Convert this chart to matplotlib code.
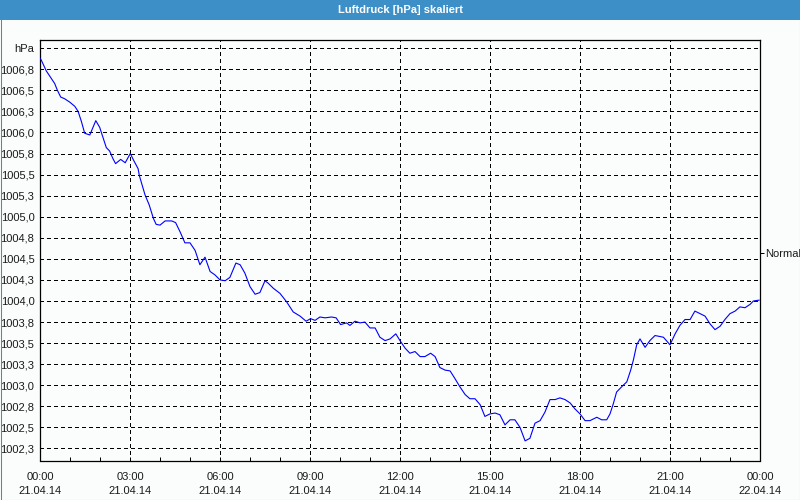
import matplotlib
matplotlib.use('Agg')
import matplotlib.pyplot as plt
import matplotlib.dates as mdates
import pandas as pd

# hours since 21.04.14 00:00
hours = [0.00, 0.04, 0.21, 0.38, 0.49, 0.58, 0.69, 0.82, 0.99, 1.16, 1.27, 1.38, 1.49,
         1.66, 1.73, 1.86, 1.99, 2.10, 2.21, 2.32, 2.43, 2.52, 2.69, 2.84, 3.01, 3.12,
         3.27, 3.31, 3.50, 3.64, 3.78, 3.87, 4.00, 4.17, 4.39, 4.52, 4.67, 4.83, 5.00,
         5.17, 5.33, 5.50, 5.67, 5.83, 6.00, 6.17, 6.33, 6.53, 6.67, 6.83, 7.00, 7.17,
         7.33, 7.50, 7.61, 7.78, 8.00, 8.22, 8.44, 8.67, 8.87, 9.02, 9.17, 9.33, 9.50,
         9.72, 9.87, 10.02, 10.22, 10.33, 10.50, 10.67, 10.83, 11.00, 11.17, 11.33,
         11.50, 11.67, 11.86, 12.00, 12.17, 12.33, 12.50, 12.67, 12.83, 13.02, 13.17,
         13.33, 13.50, 13.67, 13.83, 14.00, 14.17, 14.33, 14.50, 14.67, 14.83, 15.00,
         15.17, 15.33, 15.50, 15.67, 15.83, 16.00, 16.17, 16.33, 16.50, 16.67, 16.83,
         17.00, 17.17, 17.33, 17.50, 17.67, 17.83, 18.00, 18.17, 18.33, 18.56, 18.72,
         18.89, 19.00, 19.11, 19.22, 19.44, 19.56, 19.69, 19.78, 19.89, 20.00, 20.17,
         20.33, 20.50, 20.78, 21.00, 21.17, 21.33, 21.50, 21.67, 21.83, 22.00, 22.17,
         22.33, 22.50, 22.67, 22.83, 23.00, 23.17, 23.33, 23.50, 23.67, 23.78, 23.97]

pressure = [1006.88, 1006.86, 1006.73, 1006.64, 1006.58, 1006.50, 1006.42, 1006.40,
            1006.36, 1006.31, 1006.25, 1006.13, 1005.99, 1005.97, 1006.03, 1006.14,
            1006.06, 1005.94, 1005.82, 1005.78, 1005.69, 1005.63, 1005.68, 1005.64,
            1005.75, 1005.67, 1005.57, 1005.49, 1005.26, 1005.14, 1004.98, 1004.91,
            1004.90, 1004.95, 1004.95, 1004.93, 1004.82, 1004.69, 1004.69, 1004.60,
            1004.43, 1004.52, 1004.35, 1004.31, 1004.25, 1004.24, 1004.28, 1004.45,
            1004.43, 1004.33, 1004.17, 1004.08, 1004.10, 1004.24, 1004.21, 1004.15,
            1004.09, 1003.99, 1003.87, 1003.82, 1003.76, 1003.79, 1003.77, 1003.81,
            1003.80, 1003.81, 1003.80, 1003.72, 1003.74, 1003.71, 1003.76, 1003.74,
            1003.75, 1003.68, 1003.68, 1003.57, 1003.53, 1003.55, 1003.61, 1003.53,
            1003.44, 1003.38, 1003.40, 1003.34, 1003.34, 1003.38, 1003.34, 1003.21,
            1003.18, 1003.17, 1003.08, 1002.98, 1002.89, 1002.84, 1002.84, 1002.77,
            1002.63, 1002.66, 1002.67, 1002.65, 1002.53, 1002.59, 1002.59, 1002.50,
            1002.34, 1002.37, 1002.55, 1002.58, 1002.68, 1002.83, 1002.83, 1002.85,
            1002.83, 1002.79, 1002.72, 1002.66, 1002.58, 1002.58, 1002.62, 1002.59,
            1002.59, 1002.66, 1002.78, 1002.92, 1003.00, 1003.04, 1003.18, 1003.30,
            1003.48, 1003.55, 1003.45, 1003.53, 1003.59, 1003.57, 1003.48, 1003.61,
            1003.71, 1003.78, 1003.78, 1003.88, 1003.85, 1003.82, 1003.73, 1003.66,
            1003.70, 1003.78, 1003.85, 1003.88, 1003.93, 1003.92, 1003.96, 1004.00,
            1004.01]

ytick_values = [1002.25, 1002.5, 1002.75, 1003.0, 1003.25, 1003.5, 1003.75, 1004.0,
                1004.25, 1004.5, 1004.75, 1005.0, 1005.25, 1005.5, 1005.75, 1006.0,
                1006.25, 1006.5, 1006.75, 1007.0]
ytick_labels = ['1002,3', '1002,5', '1002,8', '1003,0', '1003,3', '1003,5', '1003,8',
                '1004,0', '1004,3', '1004,5', '1004,8', '1005,0', '1005,3', '1005,5',
                '1005,8', '1006,0', '1006,3', '1006,5', '1006,8', 'hPa']
normal_level = 1004.57
title = 'Luftdruck [hPa] skaliert'

plt.rcParams['font.family'] = ['Liberation Sans', 'DejaVu Sans']
bg = '#fafdfb'
bar = '#3d8fc7'
txt = '#1a1a1a'

fig = plt.figure(figsize=(8, 5), dpi=100, facecolor=bg)

# title bar and border
fig.patches.append(plt.Rectangle((0, 1 - 20 / 500), 1, 20 / 500, transform=fig.transFigure,
                                 facecolor=bar, edgecolor='none', zorder=0))
fig.patches.append(plt.Rectangle((0.5 / 800, 0.5 / 500), 799 / 800, 499 / 500,
                                 transform=fig.transFigure, facecolor='none',
                                 edgecolor=bar, lw=0.75, zorder=0))
fig.text(0.5, 1 - 10 / 500, title, color='white', fontsize=8, fontweight='bold',
         ha='center', va='center')

ax = fig.add_axes([40 / 800, 1 - 460.5 / 500, 720 / 800, 420.5 / 500])
ax.set_facecolor(bg)

start = pd.Timestamp('2014-04-21')
times = start + pd.to_timedelta(hours, unit='h')
ax.plot(times, pressure, color='#0000ff', lw=0.8, zorder=3)

ax.set_xlim(start, start + pd.Timedelta(hours=24))
ax.set_ylim(1002.107, 1007.097)

ax.xaxis.set_major_locator(mdates.HourLocator(byhour=range(0, 24, 3)))
ax.xaxis.set_minor_locator(mdates.HourLocator())
ax.xaxis.set_major_formatter(mdates.DateFormatter('%H:%M\n%d.%m.%y'))
ax.set_yticks(ytick_values)
ax.set_yticklabels(ytick_labels)

ax.grid(True, which='major', color='black', linestyle=(0, (3, 3)), lw=0.72,
        antialiased=False)
ax.tick_params(axis='x', which='both', direction='in', length=3, width=0.72,
               colors='black', labelcolor=txt, labelsize=8, pad=8)
ax.tick_params(axis='y', length=0, labelcolor=txt, labelsize=8, pad=4)
for lab in ax.get_xticklabels():
    lab.set_linespacing(1.6)
for sp in ax.spines.values():
    sp.set_color('black')
    sp.set_linewidth(0.9)

# right-hand reference label
ax2 = ax.twinx()
ax2.set_ylim(ax.get_ylim())
ax2.set_yticks([normal_level])
ax2.set_yticklabels(['Normal'])
ax2.tick_params(axis='y', direction='out', length=3, width=0.72, colors='black',
                labelcolor=txt, labelsize=8, pad=1)
for sp in ax2.spines.values():
    sp.set_visible(False)

fig.savefig('out.png', dpi=100, facecolor=bg)
